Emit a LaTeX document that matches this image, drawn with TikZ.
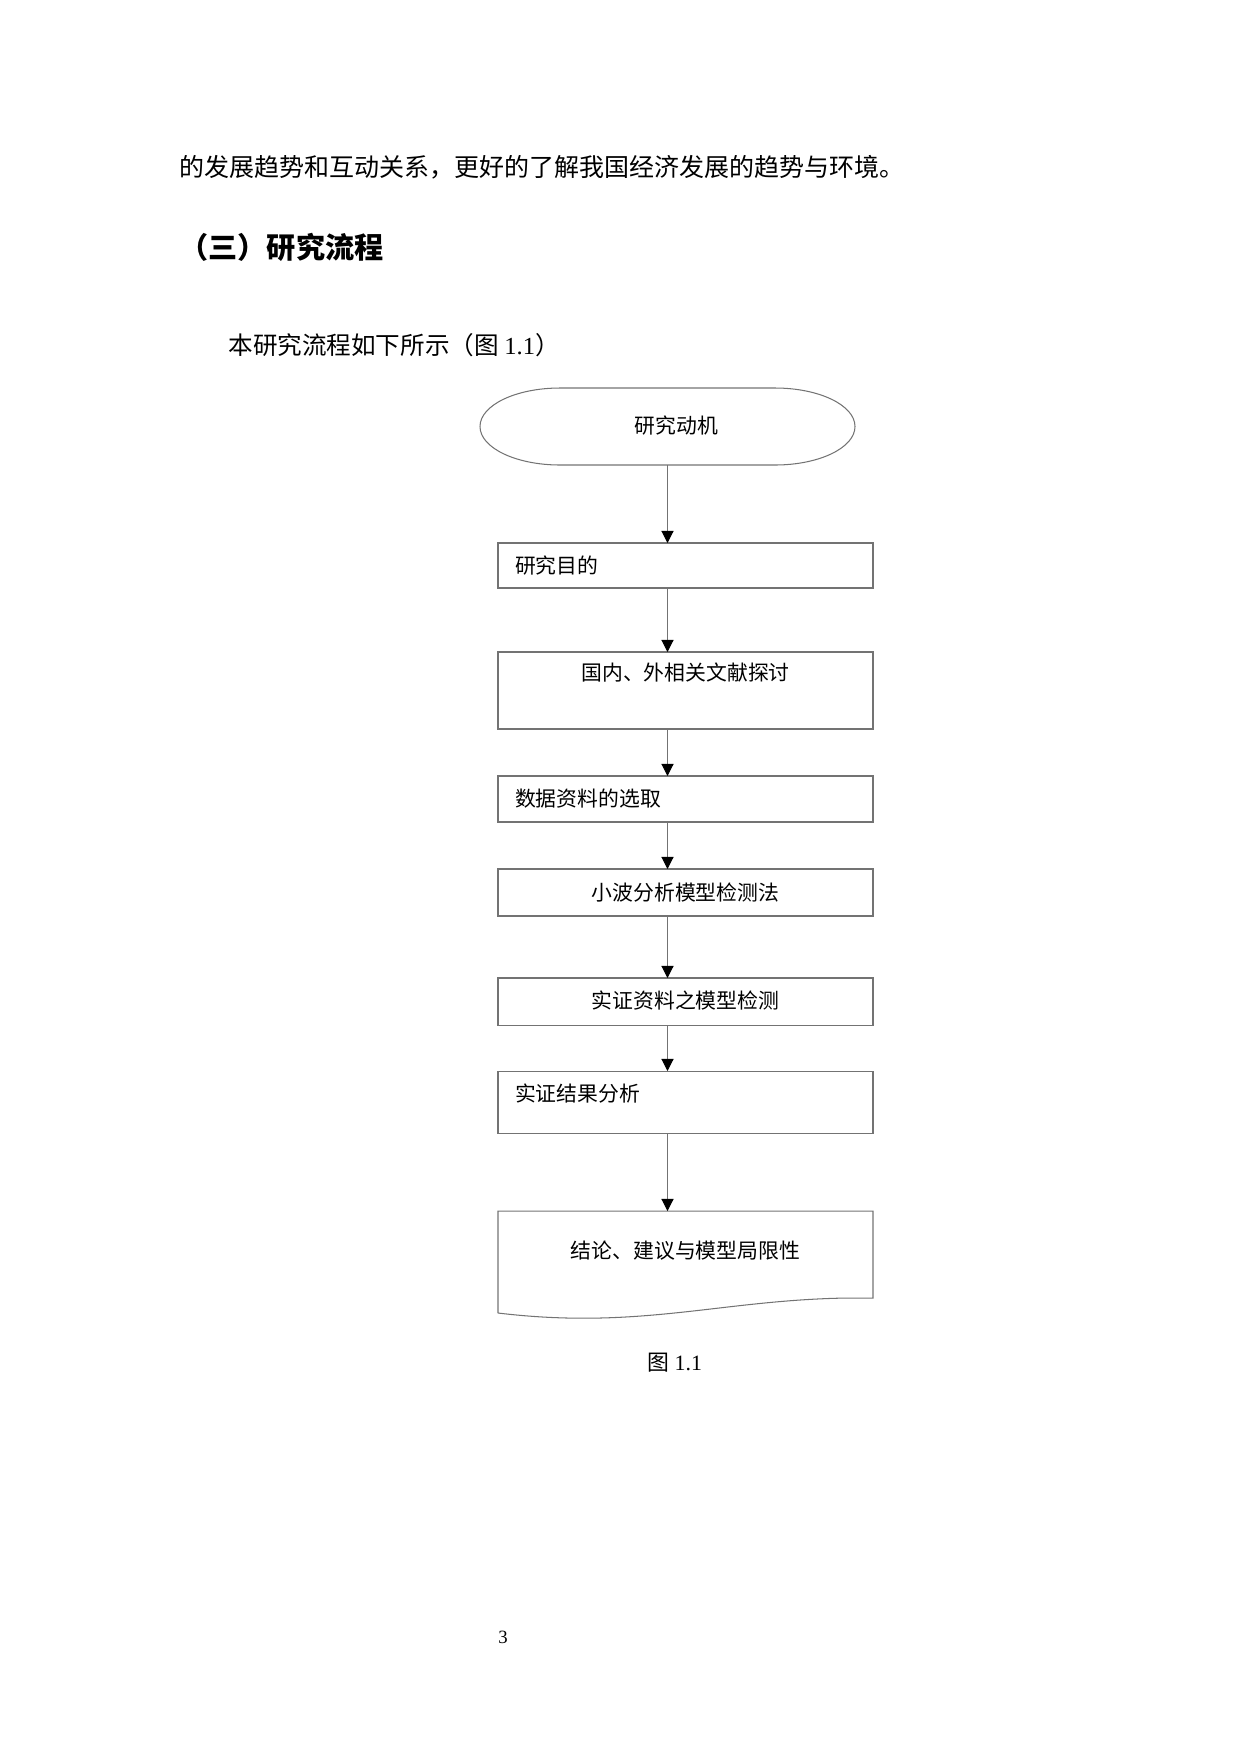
\documentclass[tikz,border=0pt]{standalone}
\usepackage{fontspec}
\setmainfont{Liberation Serif}
\newfontfamily\cjk{Noto Sans CJK SC}
\usetikzlibrary{arrows.meta,positioning,calc}

\begin{document}
\begin{tikzpicture}[
    x=0.48pt, y=-0.48pt,
    node distance=22.56pt,
    >={Triangle[width=5.8pt,length=5.8pt,color=black]},
    font=\cjk,
    body/.style={
		inner sep=0pt,
		anchor=base west,
		font=\cjk\fontsize{11.8pt}{14pt}\selectfont
	},
    stage/.style={
		rectangle,
		draw=black!55,
		line width=0.5pt,
		inner xsep=8.16pt,
		inner ysep=0pt,
		outer sep=0pt,
		text width=163.68pt,
		align=left,
		font=\cjk\fontsize{10pt}{12pt}\selectfont
	},
	terminal/.style={
		stage,
		draw=none,
		align=center
	},
	outline/.style={
		draw=black!55,
		line width=0.5pt
	},
	flow/.style={
		outline,
		->
	}
  ]
  \useasboundingbox (0,0) rectangle (1240,1754);

  % text of the page
  \node [body, font=\cjk\fontsize{12pt}{14pt}\selectfont] (intro) at (179,176.5) {的发展趋势和互动关系，更好的了解我国经济发展的趋势与环境。};
  \node [body, font=\cjk\bfseries\fontsize{14pt}{16pt}\selectfont] (heading) at (179,258) {（三）研究流程};
  \node [body] (lead) at (228,354.5) {本研究流程如下所示（图 {\rmfamily 1.1}）};

  % We start by placing the blocks
  \node [terminal, anchor=north, text height=21.6pt, text depth=15.36pt] (start) at (667.5,388) {\hspace*{8.6pt}研究动机};
  \node [stage, below=37.44pt of start, xshift=8.64pt, text height=14.4pt, text depth=7.2pt] (aim) {研究目的};
  \node [stage, below=30.72pt of aim, align=center, text height=13.44pt, text depth=23.52pt] (review) {国内、外相关文献探讨};
  \node [stage, below=of review, text height=14.4pt, text depth=7.68pt] (data) {数据资料的选取};
  \node [stage, below=of data, align=center, text height=14.88pt, text depth=7.68pt] (wavelet) {小波分析模型检测法};
  \node [stage, below=29.76pt of wavelet, align=center, text height=14.4pt, text depth=8.16pt] (test) {实证资料之模型检测};
  \node [stage, below=22.08pt of test, text height=14.4pt, text depth=15.36pt] (result) {实证结果分析};
  \node [stage, draw=none, below=37.44pt of result, align=center, text height=22.56pt, text depth=26.4pt] (concl) {结论、建议与模型局限性};

  % outlines of the start and end blocks
  \draw [outline] ([xshift=38.4pt]start.north west) -- ([xshift=-38.4pt]start.north east)
    arc [start angle=90, end angle=-90, x radius=38.4pt, y radius=18.48pt]
    -- ([xshift=38.4pt]start.south west)
    arc [start angle=270, end angle=90, x radius=38.4pt, y radius=18.48pt] -- cycle;
  \draw [outline] (concl.south west) -- (concl.north west) -- (concl.north east)
    -- ($(concl.south east)+(0,-15)$) -- ++(-26,0)
    .. controls (720,1300) and (640,1330) .. (concl.south west);

  % arrows
  \draw [flow] (start.south) -- (start.south |- aim.north);
  \draw [flow] (aim.south -| start.south) -- (start.south |- review.north);
  \draw [flow] (review.south -| start.south) -- (start.south |- data.north);
  \draw [flow] (data.south -| start.south) -- (start.south |- wavelet.north);
  \draw [flow] (wavelet.south -| start.south) -- (start.south |- test.north);
  \draw [flow] (test.south -| start.south) -- (start.south |- result.north);
  \draw [flow] (result.south -| start.south) -- (start.south |- concl.north);

  \node [body, anchor=base, font=\cjk\fontsize{10.5pt}{12pt}\selectfont] (caption) at (675,1370) {图 {\rmfamily 1.1}};
  \node [body, anchor=base, font=\rmfamily\fontsize{9pt}{11pt}\selectfont] (pageno) at (503,1643) {3};

\end{tikzpicture}
\end{document}
